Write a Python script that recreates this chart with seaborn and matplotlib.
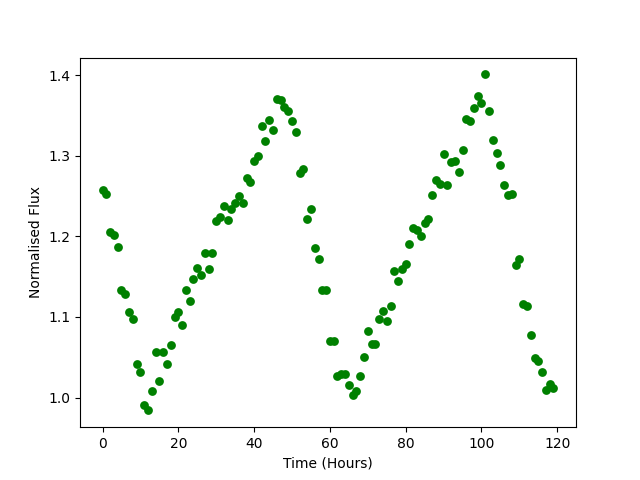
import numpy as np
import seaborn as sns
import matplotlib.pyplot as plt

# time in hours, one reading per hour
hours = np.arange(0, 120)

flux = [
    1.257, 1.253, 1.205, 1.202, 1.187, 1.134, 1.128, 1.106, 1.098, 1.042,
    1.032, 0.991, 0.984, 1.008, 1.056, 1.020, 1.056, 1.041, 1.065, 1.100,
    1.106, 1.090, 1.134, 1.120, 1.147, 1.161, 1.152, 1.179, 1.159, 1.179,
    1.219, 1.224, 1.238, 1.220, 1.234, 1.241, 1.250, 1.241, 1.273, 1.268,
    1.294, 1.300, 1.337, 1.318, 1.344, 1.332, 1.370, 1.369, 1.361, 1.355,
    1.343, 1.330, 1.279, 1.283, 1.221, 1.234, 1.186, 1.172, 1.134, 1.133,
    1.070, 1.070, 1.027, 1.029, 1.029, 1.016, 1.003, 1.008, 1.027, 1.050,
    1.082, 1.067, 1.067, 1.097, 1.107, 1.095, 1.113, 1.157, 1.145, 1.159,
    1.166, 1.191, 1.210, 1.208, 1.200, 1.217, 1.222, 1.251, 1.270, 1.265,
    1.302, 1.264, 1.292, 1.294, 1.280, 1.307, 1.346, 1.343, 1.359, 1.374,
    1.365, 1.401, 1.356, 1.319, 1.303, 1.288, 1.264, 1.251, 1.252, 1.165,
    1.172, 1.116, 1.114, 1.077, 1.049, 1.045, 1.032, 1.009, 1.017, 1.012,
]

fig, ax = plt.subplots(figsize=(6.4, 4.8), dpi=100)
sns.scatterplot(x=hours, y=flux, color='green', s=40, linewidth=0, ax=ax)

ax.set_xlabel("Time (Hours)")
ax.set_ylabel("Normalised Flux")

plt.savefig("out.png")
